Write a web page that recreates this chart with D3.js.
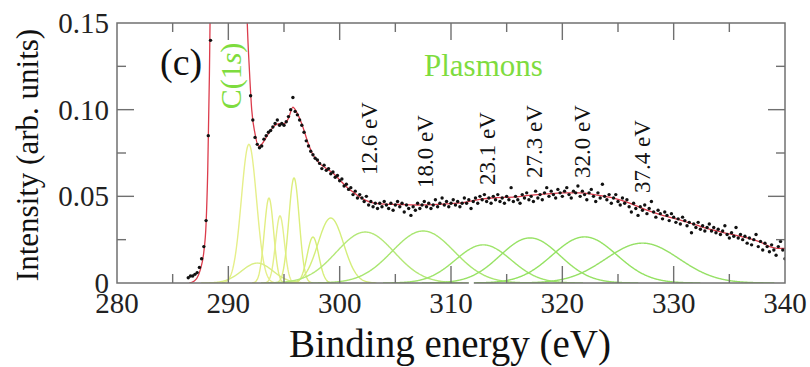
<!DOCTYPE html>
<html>
<head>
<meta charset="utf-8">
<script src="https://cdn.jsdelivr.net/npm/d3@7/dist/d3.min.js"></script>
<style>
  body { margin: 0; background: #fff; }
  svg { display: block; }
</style>
</head>
<body>
<div id="chart"></div>
<script>
// axis ticks
const xTicks = [280, 290, 300, 310, 320, 330, 340];
const xMinorTicks = [285, 295, 305, 315, 325, 335];
const yTicks = [0, 0.05, 0.10, 0.15];
const yTickLabels = ['0', '0.05', '0.10', '0.15'];
const yMinorTicks = [0.025, 0.075, 0.125];

// measured spectrum (dots), regular energy grid
const dotStart = 286.4;
const dotStep = 0.2;
const dotIntensity = [
  0.003, 0.004, 0.004, 0.005, 0.006, 0.009, 0.014, 0.021, 0.036, 0.085,  // 286.4
  0.140, null, null, null, null, null, null, null, null, null,           // 288.4
  null, null, null, null, null, null, null, null, 0.108, 0.094,           // 290.4
  0.084, 0.080, 0.078, 0.079, 0.083, 0.085, 0.087, 0.088, 0.090, 0.092,  // 292.4
  0.094, 0.091, 0.092, 0.091, 0.093, 0.096, 0.100, 0.107, 0.099, 0.097,  // 294.4
  0.094, 0.091, 0.087, 0.082, 0.079, 0.076, 0.074, 0.072, 0.071, 0.069,  // 296.4
  0.066, 0.068, 0.065, 0.066, 0.063, 0.064, 0.061, 0.062, 0.059, 0.060,  // 298.4
  0.056, 0.057, 0.054, 0.055, 0.051, 0.053, 0.049, 0.051, 0.049, 0.047,  // 300.4
  0.050, 0.045, 0.047, 0.044, 0.046, 0.043, 0.046, 0.044, 0.047, 0.045,  // 302.4
  0.043, 0.046, 0.042, 0.045, 0.047, 0.044, 0.046, 0.041, 0.045, 0.043,  // 304.4
  0.039, 0.044, 0.042, 0.046, 0.043, 0.045, 0.047, 0.044, 0.046, 0.043,  // 306.4
  0.045, 0.048, 0.044, 0.046, 0.049, 0.045, 0.047, 0.044, 0.046, 0.048,  // 308.4
  0.045, 0.047, 0.044, 0.046, 0.049, 0.046, 0.048, 0.043, 0.047, 0.049,  // 310.4
  0.046, 0.050, 0.048, 0.051, 0.047, 0.049, 0.046, 0.050, 0.048, 0.051,  // 312.4
  0.047, 0.049, 0.046, 0.050, 0.048, 0.055, 0.047, 0.050, 0.048, 0.046,  // 314.4
  0.051, 0.049, 0.052, 0.048, 0.050, 0.047, 0.053, 0.049, 0.051, 0.048,  // 316.4
  0.052, 0.055, 0.050, 0.053, 0.051, 0.049, 0.054, 0.052, 0.050, 0.053,  // 318.4
  0.055, 0.051, 0.049, 0.053, 0.052, 0.056, 0.050, 0.053, 0.051, 0.048,  // 320.4
  0.052, 0.054, 0.050, 0.047, 0.052, 0.049, 0.057, 0.050, 0.048, 0.051,  // 322.4
  0.046, 0.049, 0.051, 0.047, 0.045, 0.049, 0.046, 0.048, 0.044, 0.041,  // 324.4
  0.046, 0.043, 0.039, 0.044, 0.042, 0.045, 0.040, 0.043, 0.047, 0.041,  // 326.4
  0.038, 0.042, 0.040, 0.037, 0.041, 0.039, 0.036, 0.040, 0.038, 0.035,  // 328.4
  0.037, 0.034, 0.038, 0.036, 0.033, 0.035, 0.029, 0.034, 0.032, 0.035,  // 330.4
  0.031, 0.033, 0.030, 0.032, 0.034, 0.030, 0.032, 0.029, 0.031, 0.028,  // 332.4
  0.030, 0.033, 0.028, 0.026, 0.029, 0.027, 0.032, 0.026, 0.028, 0.025,  // 334.4
  0.027, 0.023, 0.026, 0.022, 0.025, 0.028, 0.021, 0.024, 0.019, 0.023,  // 336.4
  0.021, 0.018, 0.022, 0.019, 0.016, 0.021, 0.024, 0.019, 0.014          // 338.4
];

// total fit (red)
const fitEnergy = [286.5, 286.9, 287.2, 287.5, 287.8, 288.0, 288.15, 288.3, 288.45, 288.6,
  289.2, 290.0, 290.8, 291.3, 291.5, 291.7, 291.9, 292.1, 292.4, 292.7,
  293.0, 293.4, 293.8, 294.2, 294.6, 295.0, 295.4, 295.8, 296.1, 296.4,
  296.8, 297.2, 297.6, 298.2, 298.8, 299.4, 300.0, 300.7, 301.3, 301.8,
  302.4, 303.0, 304.0, 305.4, 307.0, 308.4, 310.0, 311.4, 312.6, 314.1,
  315.6, 317.0, 318.6, 320.0, 321.6, 323.0, 324.6, 326.1, 327.6, 329.0,
  330.6, 332.0, 333.5, 335.0, 336.6, 338.0, 338.7, 339.3, 340.0];
const fitIntensity = [0.0, 0.001, 0.003, 0.008, 0.018, 0.034, 0.065, 0.12, 0.2, 0.3,
  0.8, 1.0, 0.8, 0.35, 0.2, 0.15, 0.122, 0.100, 0.086, 0.079,
  0.080, 0.084, 0.088, 0.091, 0.092, 0.092, 0.095, 0.1015, 0.099, 0.095,
  0.088, 0.080, 0.074, 0.069, 0.066, 0.0635, 0.0595, 0.055, 0.052, 0.0496,
  0.0475, 0.0462, 0.0455, 0.0453, 0.0450, 0.0452, 0.0458, 0.0467, 0.0483, 0.0492,
  0.0495, 0.0505, 0.0514, 0.052, 0.052, 0.0508, 0.049, 0.046, 0.042, 0.039,
  0.0363, 0.0335, 0.0306, 0.0283, 0.026, 0.023, 0.0208, 0.020, 0.020];

// fitted components: centre (eV), height, gaussian width (eV)
const peakCenter = [291.85, 293.65, 294.64, 295.9, 297.6, 299.2, 292.6, 302.3, 307.5, 312.9, 317.1, 322.0, 327.2];
const peakHeight = [0.080, 0.049, 0.0387, 0.0606, 0.0265, 0.0375, 0.0115, 0.0294, 0.030, 0.022, 0.026, 0.0266, 0.023];
const peakWidth = [0.68, 0.42, 0.40, 0.47, 0.52, 1.15, 1.4, 2.6, 2.8, 2.5, 2.7, 2.9, 3.3];
const peakColor = ['#e6ef8a', '#e2ee82', '#e4ef8c', '#dcee7c', '#d6ee78', '#d4ee7a', '#d9ee84',
  '#b4e878', '#a8e670', '#9ee46a', '#98e266', '#94e262', '#96e066'];

// plasmon loss labels
const plasmonLabels = ['12.6 eV', '18.0 eV', '23.1 eV', '27.3 eV', '32.0 eV', '37.4 eV'];
const plasmonLabelEnergy = [303.35, 308.38, 313.95, 318.17, 322.49, 327.88];
const plasmonLabelIntensity = [0.0623, 0.0548, 0.0565, 0.0606, 0.0606, 0.0519];

const W = 810, H = 367;
const margin = { top: 23, right: 25, bottom: 84, left: 117 };
const width = W - margin.left - margin.right;
const height = H - margin.top - margin.bottom;
const axisColor = '#707070';
const green = '#7edc3e';
const FONT = '"Liberation Serif"';

const svg = d3.select('#chart')
  .append('svg')
  .attr('width', W)
  .attr('height', H);

const g = svg.append('g')
  .attr('transform', `translate(${margin.left},${margin.top})`);

const x = d3.scaleLinear().domain([280, 340]).range([0, width]);
const y = d3.scaleLinear().domain([0, 0.15]).range([height, 0]);

g.append('clipPath').attr('id', 'plot')
  .append('rect').attr('width', width).attr('height', height);

const plot = g.append('g').attr('clip-path', 'url(#plot)');

// components
peakCenter.forEach((c, i) => {
  const s = peakWidth[i];
  const pts = d3.range(c - 3.6 * s, c + 3.6 * s, 0.04)
    .map(e => [e, peakHeight[i] * Math.exp(-((e - c) ** 2) / (2 * s * s))]);
  plot.append('path')
    .datum(pts)
    .attr('fill', 'none')
    .attr('stroke', peakColor[i])
    .attr('stroke-width', 1.4)
    .attr('d', d3.line().x(d => x(d[0])).y(d => y(d[1])));
});

// fit
plot.append('path')
  .datum(fitEnergy.map((e, i) => [e, fitIntensity[i]]))
  .attr('fill', 'none')
  .attr('stroke', '#dc3c4c')
  .attr('stroke-width', 1.3)
  .attr('d', d3.line().x(d => x(d[0])).y(d => y(d[1])).curve(d3.curveMonotoneX));

// dots
const dots = dotIntensity
  .map((v, i) => [dotStart + i * dotStep, v])
  .filter(d => d[1] !== null && d[1] <= 0.15);
plot.selectAll('.dot')
  .data(dots)
  .enter()
  .append('circle')
  .attr('class', 'dot')
  .attr('cx', d => x(d[0]))
  .attr('cy', d => y(d[1]))
  .attr('r', 1.7)
  .attr('fill', '#111');

// frame and ticks (inward on all sides)
g.append('rect')
  .attr('width', width).attr('height', height)
  .attr('fill', 'none').attr('stroke', axisColor).attr('stroke-width', 1.5);

const tickLines = (vals, len, side) => {
  vals.forEach(v => {
    let a;
    if (side === 'bottom') a = [x(v), height, x(v), height - len];
    if (side === 'top') a = [x(v), 0, x(v), len];
    if (side === 'left') a = [0, y(v), len, y(v)];
    if (side === 'right') a = [width, y(v), width - len, y(v)];
    g.append('line')
      .attr('x1', a[0]).attr('y1', a[1]).attr('x2', a[2]).attr('y2', a[3])
      .attr('stroke', axisColor).attr('stroke-width', 1.4);
  });
};
['bottom', 'top'].forEach(s => { tickLines(xTicks.slice(1, -1), 17, s); tickLines(xMinorTicks, 9, s); });
['left', 'right'].forEach(s => { tickLines(yTicks.slice(1, -1), 17, s); tickLines(yMinorTicks, 9, s); });

// small break in the bottom axis line
g.append('rect')
  .attr('x', x(311.6)).attr('y', height - 1.5)
  .attr('width', 5).attr('height', 3)
  .attr('fill', '#fff');

// tick labels
g.selectAll('.xlab')
  .data(xTicks)
  .enter()
  .append('text')
  .attr('class', 'xlab')
  .attr('x', d => x(d))
  .attr('y', height + 30)
  .attr('text-anchor', 'middle')
  .style('font-family', FONT)
  .style('font-size', '29px')
  .attr('fill', '#222')
  .text(d => d);

g.selectAll('.ylab')
  .data(yTicks)
  .enter()
  .append('text')
  .attr('class', 'ylab')
  .attr('x', -8)
  .attr('y', d => y(d))
  .attr('dy', '0.34em')
  .attr('text-anchor', 'end')
  .style('font-family', FONT)
  .style('font-size', '29px')
  .attr('fill', '#222')
  .text((d, i) => yTickLabels[i]);

// axis titles
svg.append('text')
  .attr('x', 450)
  .attr('y', 357)
  .attr('text-anchor', 'middle')
  .style('font-family', FONT)
  .style('font-size', '39px')
  .attr('fill', '#111')
  .text('Binding energy (eV)');

svg.append('text')
  .attr('transform', 'translate(38,155) rotate(-90)')
  .attr('text-anchor', 'middle')
  .style('font-family', FONT)
  .style('font-size', '31px')
  .attr('fill', '#111')
  .text('Intensity (arb. units)');

// annotations
svg.append('text')
  .attr('x', 160).attr('y', 75)
  .style('font-family', FONT)
  .style('font-size', '38px')
  .attr('fill', '#111')
  .text('(c)');

const c1s = svg.append('text')
  .attr('transform', 'translate(241,76) rotate(-90)')
  .attr('text-anchor', 'middle')
  .style('font-family', FONT)
  .style('font-size', '30px')
  .attr('fill', green);
c1s.append('tspan').text('C(1');
c1s.append('tspan').style('font-style', 'italic').text('s');
c1s.append('tspan').text(')');

svg.append('text')
  .attr('x', 424).attr('y', 76)
  .style('font-family', FONT)
  .style('font-size', '31px')
  .attr('fill', green)
  .text('Plasmons');

g.selectAll('.plab')
  .data(plasmonLabels)
  .enter()
  .append('text')
  .attr('class', 'plab')
  .attr('transform', (d, i) => `translate(${x(plasmonLabelEnergy[i])},${y(plasmonLabelIntensity[i])}) rotate(-90)`)
  .style('font-family', FONT)
  .style('font-size', '23px')
  .attr('fill', '#111')
  .text(d => d);
</script>
</body>
</html>
